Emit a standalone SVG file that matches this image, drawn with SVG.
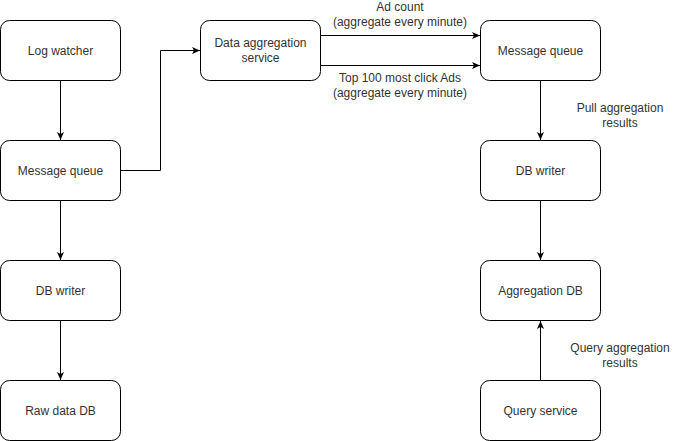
<svg xmlns="http://www.w3.org/2000/svg" width="681" height="441" viewBox="0 0 681 441">
<style>
.node rect{fill:#fff;stroke:#000;stroke-width:1}
text{font-family:"Liberation Sans",Arial,sans-serif;font-size:12px;fill:#333;text-anchor:middle}
.edge{fill:none;stroke:#000;stroke-width:1}
</style>
<defs>
<marker id="arr" markerWidth="8" markerHeight="8" viewBox="0 0 8 8" refX="8" refY="4" orient="auto" markerUnits="userSpaceOnUse">
<path d="M0,0.5 L8,4 L0,7.5 L2,4 z" fill="#000"/>
</marker>
</defs>
<rect width="681" height="441" fill="#fff"/>
<g id="edges">
<path class="edge" d="M60.5,80.5 V140" marker-end="url(#arr)"/>
<path class="edge" d="M120.5,170.5 H160.5 V50.5 H200" marker-end="url(#arr)"/>
<path class="edge" d="M60.5,200.5 V260" marker-end="url(#arr)"/>
<path class="edge" d="M60.5,320.5 V380" marker-end="url(#arr)"/>
<path class="edge" d="M320.5,35.5 H480" marker-end="url(#arr)"/>
<path class="edge" d="M320.5,65.5 H480" marker-end="url(#arr)"/>
<path class="edge" d="M540.5,80.5 V140" marker-end="url(#arr)"/>
<path class="edge" d="M540.5,200.5 V260" marker-end="url(#arr)"/>
<path class="edge" d="M540.5,380.5 V321" marker-end="url(#arr)"/>
<text x="400" y="11">Ad count</text>
<text x="400" y="26">(aggregate every minute)</text>
<text x="400" y="82">Top 100 most click Ads</text>
<text x="400" y="97">(aggregate every minute)</text>
<text x="620" y="112">Pull aggregation</text>
<text x="620" y="127">results</text>
<text x="620" y="352">Query aggregation</text>
<text x="620" y="367">results</text>
</g>
<g id="log-watcher" class="node"><rect x="0.5" y="20.5" width="120" height="60" rx="9"/><text x="60.5" y="54.5">Log watcher</text></g>
<g id="message-queue-1" class="node"><rect x="0.5" y="140.5" width="120" height="60" rx="9"/><text x="60.5" y="174.5">Message queue</text></g>
<g id="db-writer-1" class="node"><rect x="0.5" y="260.5" width="120" height="60" rx="9"/><text x="60.5" y="294.5">DB writer</text></g>
<g id="raw-data-db" class="node"><rect x="0.5" y="380.5" width="120" height="60" rx="9"/><text x="60.5" y="414.5">Raw data DB</text></g>
<g id="data-aggregation-service" class="node"><rect x="200.5" y="20.5" width="120" height="60" rx="9"/><text x="260.5" y="47">Data aggregation</text><text x="260.5" y="62">service</text></g>
<g id="message-queue-2" class="node"><rect x="480.5" y="20.5" width="120" height="60" rx="9"/><text x="540.5" y="54.5">Message queue</text></g>
<g id="db-writer-2" class="node"><rect x="480.5" y="140.5" width="120" height="60" rx="9"/><text x="540.5" y="174.5">DB writer</text></g>
<g id="aggregation-db" class="node"><rect x="480.5" y="260.5" width="120" height="60" rx="9"/><text x="540.5" y="294.5">Aggregation DB</text></g>
<g id="query-service" class="node"><rect x="480.5" y="380.5" width="120" height="60" rx="9"/><text x="540.5" y="414.5">Query service</text></g>
</svg>
